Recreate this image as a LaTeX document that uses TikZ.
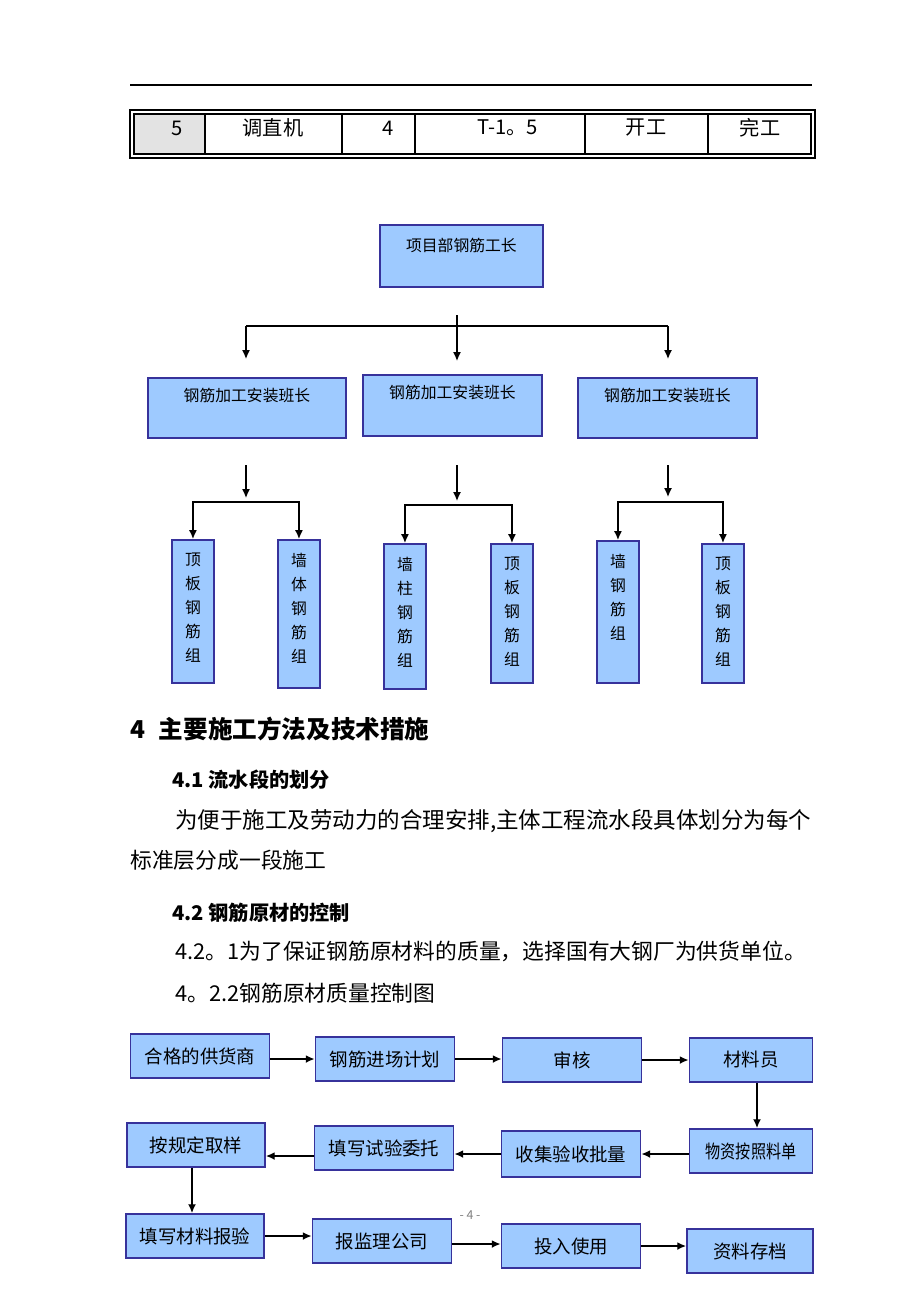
\documentclass[tikz,border=0pt]{standalone}
\usepackage{fontspec}
\setmainfont{Noto Sans CJK SC}
\usetikzlibrary{arrows.meta}
\definecolor{boxfill}{RGB}{158,202,255}
\definecolor{boxline}{RGB}{55,50,155}

\begin{document}
\begin{tikzpicture}[x=0.02cm, y=-0.02cm,
  box/.style={draw=boxline, fill=boxfill, line width=1.1pt, inner sep=0pt},
  orgbox/.style={box, anchor=north west, font=\fontsize{9}{11}\selectfont},
  colbox/.style={box, anchor=north west, minimum width=0.84cm},
  coltext/.style={anchor=north, align=center, inner sep=0pt, yshift=-0.27cm, font=\fontsize{9}{13.7}\selectfont},
  flow/.style={box, minimum width=2.78cm, minimum height=0.88cm, font=\fontsize{10.5}{12}\selectfont},
  arr/.style={-{Latex[length=5pt,width=4.5pt]}, line width=0.8pt},
  plain/.style={line width=0.8pt},
  txt/.style={anchor=west, inner sep=0pt, font=\fontsize{12.4}{15}\selectfont},
  head/.style={anchor=west, inner sep=0pt, font=\fontsize{11.5}{14}\selectfont\bfseries},
  cell/.style={inner sep=0pt, font=\fontsize{11.5}{14}\selectfont}]
	\fill[white] (0,0) rectangle (920,1302);
	
	% page rule and table row
	\draw[line width=0.6pt] (130,85) -- (812,85);
	\fill[gray!22] (134,114) rectangle (205,154);
	\draw[line width=1.4pt] (130,110) rectangle (815,158);
	\draw[line width=0.8pt] (134,114) rectangle (811,154);
	\foreach \x in {205,342,415,585,708}
		\draw[line width=0.6pt] (\x,114) -- (\x,154);
	\node[cell] (c1) at (177,128) {5};
	\node[cell] (c2) at (273,128) {调直机};
	\node[cell] (c3) at (388,128) {4};
	\node[cell] (c4) at (508,128) {T-1。5};
	\node[cell] (c5) at (646,128) {开工};
	\node[cell] (c6) at (760,128) {完工};
	
	% organisation chart
	\node[orgbox, minimum width=3.26cm, text height=0.54cm, text depth=0.70cm] (boss) at (379,224) {项目部钢筋工长};
	\node[orgbox, minimum width=3.96cm, text height=0.48cm, text depth=0.72cm] (lead1) at (147,377) {钢筋加工安装班长\hspace{0.4cm}};
	\node[orgbox, minimum width=3.58cm, text height=0.48cm, text depth=0.74cm] (lead2) at (362,374) {钢筋加工安装班长};
	\node[orgbox, minimum width=3.58cm, text height=0.48cm, text depth=0.72cm] (lead3) at (577,377) {钢筋加工安装班长};
	
	\node[colbox, minimum height=2.86cm] (g1) at (171,539) {};
	\node[colbox, minimum height=2.96cm] (g2) at (277,539) {};
	\node[colbox, minimum height=2.90cm] (g3) at (383,543) {};
	\node[colbox, minimum height=2.78cm] (g4) at (490,543) {};
	\node[colbox, minimum height=2.84cm] (g5) at (596,540) {};
	\node[colbox, minimum height=2.78cm] (g6) at (701,543) {};
	\node[coltext] (t1) at (g1.north) {顶\\板\\钢\\筋\\组};
	\node[coltext] (t2) at (g2.north) {墙\\体\\钢\\筋\\组};
	\node[coltext] (t3) at (g3.north) {墙\\柱\\钢\\筋\\组};
	\node[coltext] (t4) at (g4.north) {顶\\板\\钢\\筋\\组};
	\node[coltext] (t5) at (g5.north) {墙\\钢\\筋\\组};
	\node[coltext] (t6) at (g6.north) {顶\\板\\钢\\筋\\组};
	
	\coordinate (r0) at (457,315);
	\coordinate (r1) at (457,361);
	\coordinate (fl) at (246,326);
	\coordinate (fr) at (668,326);
	\coordinate (el) at (246,359);
	\coordinate (er) at (668,359);
	\draw[plain] (fl) -- (fr);
	\draw[arr] (r0) -- (r1);
	\draw[arr] (fl) -- (el);
	\draw[arr] (fr) -- (er);
	
	\coordinate (s1) at (246,465);
	\coordinate (j1) at (246,498);
	\coordinate (k1) at (246,502);
	\coordinate (s2) at (457,465);
	\coordinate (j2) at (457,501);
	\coordinate (k2) at (457,505);
	\coordinate (s3) at (668,465);
	\coordinate (j3) at (668,497);
	\coordinate (k3) at (668,502);
	\draw[arr] (s1) -- (j1);
	\draw[arr] (k1) -| (g1.north);
	\draw[arr] (k1) -| (g2.north);
	\draw[arr] (s2) -- (j2);
	\draw[arr] (k2) -| (g3.north);
	\draw[arr] (k2) -| (g4.north);
	\draw[arr] (s3) -- (j3);
	\draw[arr] (k3) -| (g5.north);
	\draw[arr] (k3) -| (g6.north);
	
	% section text
	\node[head, font=\fontsize{14}{16}\selectfont\bfseries] (sec4) at (130,729) {4\hspace{0.55em}主要施工方法及技术措施};
	\node[head] (sec41) at (172,780) {4.1 流水段的划分};
	\node[txt, font=\fontsize{12.8}{15}\selectfont] (p1) at (175,821) {为便于施工及劳动力的合理安排,主体工程流水段具体划分为每个};
	\node[txt] (p2) at (130,860) {标准层分成一段施工};
	\node[head] (sec42) at (172,913) {4.2 钢筋原材的控制};
	\node[txt] (p3) at (175,951) {4.2。1为了保证钢筋原材料的质量，选择国有大钢厂为供货单位。};
	\node[txt] (p4) at (175,993) {4。2.2钢筋原材质量控制图};
	
	% quality control flow
	\node[flow] (sup) at (200,1056) {合格的供货商};
	\node[flow] (plan) at (385,1059) {钢筋进场计划};
	\node[flow] (audit) at (572,1060) {审核};
	\node[flow, minimum width=2.46cm] (clerk) at (751,1060) {材料员};
	\node[flow, minimum width=2.46cm] (issue) at (751,1151) {\scalebox{0.82}[1]{物资按照料单}};
	\node[flow, minimum height=0.92cm] (batch) at (571,1154) {收集验收批量};
	\node[flow] (entrust) at (384,1148) {填写试验委托};
	\node[flow, minimum width=2.76cm] (sample) at (196,1145) {按规定取样};
	\node[flow, minimum width=2.76cm] (report) at (195,1236) {填写材料报验};
	\node[flow] (super) at (382,1241) {报监理公司};
	\node[flow] (use) at (571,1246) {投入使用};
	\node[flow, minimum width=2.52cm] (file) at (750,1251) {资料存档};
	\node[font=\fontsize{7}{8}\selectfont, text=gray, inner sep=0pt] (pg) at (470,1215) {- 4 -};
	
	\draw[arr] (sup.east |- plan) -- (plan.west);
	\draw[arr] (plan.east) -- (plan.east -| audit.west);
	\draw[arr] (audit.east) -- (audit.east -| clerk.west);
	\draw[arr] ([xshift=0.12cm]clerk.south) -- ([xshift=0.12cm]issue.north);
	\draw[arr] (issue.west |- batch) -- (batch.east);
	\draw[arr] (batch.west) -- (batch.west -| entrust.east);
	\draw[arr] ([yshift=-0.16cm]entrust.west) -- ([yshift=-0.16cm]entrust.west -| sample.east);
	\draw[arr] ([xshift=-0.08cm]sample.south) -- ([xshift=-0.08cm]sample.south |- report.north);
	\draw[arr] (report.east) -- (report.east -| super.west);
	\draw[arr] ([yshift=-0.06cm]super.east) -- ([yshift=-0.06cm]super.east -| use.west);
	\draw[arr] (use.east) -- (use.east -| file.west);
\end{tikzpicture}
\end{document}
